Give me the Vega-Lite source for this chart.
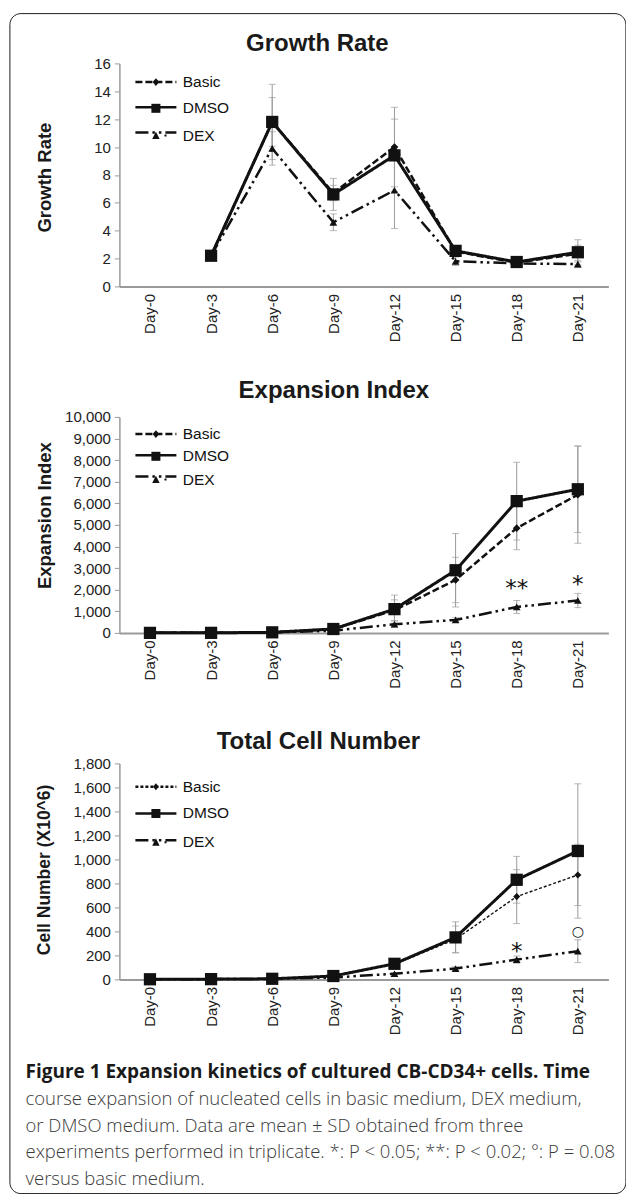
{
  "$schema": "https://vega.github.io/schema/vega-lite/v6.json",
  "padding": {"left": 8.4, "top": 12.4, "right": 0, "bottom": 0},
  "background": "white",
  "config": {
    "view": {"stroke": null},
    "axis": {"grid": false, "labelFont": "Liberation Sans", "labelColor": "#222", "titleFont": "Liberation Sans", "titleColor": "#1a1a1a", "titleFontWeight": "bold", "titleFontSize": 18.5, "domainColor": "#9a9a9a"},
    "axisY": {"domainWidth": 1.5, "tickColor": "#9a9a9a", "tickSize": 5, "tickWidth": 1, "labelPadding": 4, "labelFontSize": 15, "titleBaseline": "middle", "titleX": -75},
    "axisX": {"domainWidth": 2, "ticks": false, "tickSize": 0, "labelAngle": -90, "labelPadding": 7, "labelFontSize": 15, "title": null},
    "title": {"font": "Liberation Sans", "fontSize": 24, "fontWeight": "bold", "color": "#1a1a1a", "anchor": "middle", "baseline": "alphabetic", "frame": "group"},
    "legend": {"title": null, "orient": "none", "symbolSize": 420, "symbolOpacity": 1, "symbolFillColor": "#111", "symbolStrokeColor": "#111", "symbolStrokeWidth": 2.5, "labelOffset": 15.3, "labelFont": "Liberation Sans", "labelFontSize": 15.5, "labelColor": "#111", "legendX": 25}
  },
  "title": {
    "text": "Figure 1 Expansion kinetics of cultured CB-CD34+ cells. Time",
    "subtitle": [
      "course expansion of nucleated cells in basic medium, DEX medium,",
      "or DMSO medium. Data are mean ± SD obtained from three",
      "experiments performed in triplicate. *: P < 0.05; **: P < 0.02; °: P = 0.08",
      "versus basic medium."
    ],
    "orient": "bottom", "anchor": "start", "frame": "bounds", "offset": -130.2, "dx": 16.6, "baseline": "top",
    "font": "Open Sans", "fontSize": 19, "fontWeight": "bold", "color": "#1a1a1a",
    "subtitleFont": "Open Sans", "subtitleFontSize": 18.5, "subtitleFontWeight": 300, "subtitleColor": "#3a3a3a", "subtitleLineHeight": 26.67, "subtitlePadding": 7.67
  },
  "datasets": {
    "growth": [
      {"day": "Day-3", "d": 3, "series": "Basic", "value": 2.2, "sd": 0.1},
      {"day": "Day-3", "d": 3, "series": "DMSO", "value": 2.2, "sd": 0.15},
      {"day": "Day-3", "d": 3, "series": "DEX", "value": 2.2, "sd": 0.1},
      {"day": "Day-6", "d": 6, "series": "Basic", "value": 11.8, "sd": 1.75},
      {"day": "Day-6", "d": 6, "series": "DMSO", "value": 11.8, "sd": 2.7},
      {"day": "Day-6", "d": 6, "series": "DEX", "value": 9.9, "sd": 1.2},
      {"day": "Day-9", "d": 9, "series": "Basic", "value": 6.7, "sd": 0.55},
      {"day": "Day-9", "d": 9, "series": "DMSO", "value": 6.6, "sd": 1.15},
      {"day": "Day-9", "d": 9, "series": "DEX", "value": 4.6, "sd": 0.6},
      {"day": "Day-12", "d": 12, "series": "Basic", "value": 10.0, "sd": 2.85},
      {"day": "Day-12", "d": 12, "series": "DMSO", "value": 9.4, "sd": 2.6},
      {"day": "Day-12", "d": 12, "series": "DEX", "value": 6.9, "sd": 2.75},
      {"day": "Day-15", "d": 15, "series": "Basic", "value": 2.5, "sd": 0.3},
      {"day": "Day-15", "d": 15, "series": "DMSO", "value": 2.55, "sd": 0.3},
      {"day": "Day-15", "d": 15, "series": "DEX", "value": 1.8, "sd": 0.3},
      {"day": "Day-18", "d": 18, "series": "Basic", "value": 1.7, "sd": 0.2},
      {"day": "Day-18", "d": 18, "series": "DMSO", "value": 1.75, "sd": 0.2},
      {"day": "Day-18", "d": 18, "series": "DEX", "value": 1.65, "sd": 0.15},
      {"day": "Day-21", "d": 21, "series": "Basic", "value": 2.35, "sd": 0.6},
      {"day": "Day-21", "d": 21, "series": "DMSO", "value": 2.45, "sd": 0.9},
      {"day": "Day-21", "d": 21, "series": "DEX", "value": 1.6, "sd": 0.25}
    ],
    "expansion": [
      {"day": "Day-0", "d": 0, "series": "Basic", "value": 1, "sd": 0},
      {"day": "Day-0", "d": 0, "series": "DMSO", "value": 1, "sd": 0},
      {"day": "Day-0", "d": 0, "series": "DEX", "value": 1, "sd": 0},
      {"day": "Day-3", "d": 3, "series": "Basic", "value": 2.2, "sd": 0.2},
      {"day": "Day-3", "d": 3, "series": "DMSO", "value": 2.2, "sd": 0.2},
      {"day": "Day-3", "d": 3, "series": "DEX", "value": 2.2, "sd": 0.2},
      {"day": "Day-6", "d": 6, "series": "Basic", "value": 26, "sd": 5},
      {"day": "Day-6", "d": 6, "series": "DMSO", "value": 26, "sd": 5},
      {"day": "Day-6", "d": 6, "series": "DEX", "value": 22, "sd": 4},
      {"day": "Day-9", "d": 9, "series": "Basic", "value": 175, "sd": 40},
      {"day": "Day-9", "d": 9, "series": "DMSO", "value": 180, "sd": 50},
      {"day": "Day-9", "d": 9, "series": "DEX", "value": 100, "sd": 20},
      {"day": "Day-12", "d": 12, "series": "Basic", "value": 1050, "sd": 480},
      {"day": "Day-12", "d": 12, "series": "DMSO", "value": 1100, "sd": 650},
      {"day": "Day-12", "d": 12, "series": "DEX", "value": 400, "sd": 150},
      {"day": "Day-15", "d": 15, "series": "Basic", "value": 2450, "sd": 1050},
      {"day": "Day-15", "d": 15, "series": "DMSO", "value": 2900, "sd": 1700},
      {"day": "Day-15", "d": 15, "series": "DEX", "value": 600, "sd": 100},
      {"day": "Day-18", "d": 18, "series": "Basic", "value": 4850, "sd": 1000},
      {"day": "Day-18", "d": 18, "series": "DMSO", "value": 6100, "sd": 1800},
      {"day": "Day-18", "d": 18, "series": "DEX", "value": 1200, "sd": 300},
      {"day": "Day-21", "d": 21, "series": "Basic", "value": 6400, "sd": 2250},
      {"day": "Day-21", "d": 21, "series": "DMSO", "value": 6650, "sd": 2000},
      {"day": "Day-21", "d": 21, "series": "DEX", "value": 1500, "sd": 330}
    ],
    "cells": [
      {"day": "Day-0", "d": 0, "series": "Basic", "value": 1, "sd": 0},
      {"day": "Day-0", "d": 0, "series": "DMSO", "value": 1, "sd": 0},
      {"day": "Day-0", "d": 0, "series": "DEX", "value": 1, "sd": 0},
      {"day": "Day-3", "d": 3, "series": "Basic", "value": 2, "sd": 0.3},
      {"day": "Day-3", "d": 3, "series": "DMSO", "value": 2, "sd": 0.3},
      {"day": "Day-3", "d": 3, "series": "DEX", "value": 2, "sd": 0.3},
      {"day": "Day-6", "d": 6, "series": "Basic", "value": 5, "sd": 1},
      {"day": "Day-6", "d": 6, "series": "DMSO", "value": 5, "sd": 1},
      {"day": "Day-6", "d": 6, "series": "DEX", "value": 4, "sd": 1},
      {"day": "Day-9", "d": 9, "series": "Basic", "value": 27, "sd": 5},
      {"day": "Day-9", "d": 9, "series": "DMSO", "value": 28, "sd": 5},
      {"day": "Day-9", "d": 9, "series": "DEX", "value": 16, "sd": 4},
      {"day": "Day-12", "d": 12, "series": "Basic", "value": 125, "sd": 20},
      {"day": "Day-12", "d": 12, "series": "DMSO", "value": 130, "sd": 25},
      {"day": "Day-12", "d": 12, "series": "DEX", "value": 47, "sd": 10},
      {"day": "Day-15", "d": 15, "series": "Basic", "value": 335, "sd": 110},
      {"day": "Day-15", "d": 15, "series": "DMSO", "value": 350, "sd": 130},
      {"day": "Day-15", "d": 15, "series": "DEX", "value": 90, "sd": 15},
      {"day": "Day-18", "d": 18, "series": "Basic", "value": 690, "sd": 225},
      {"day": "Day-18", "d": 18, "series": "DMSO", "value": 830, "sd": 195},
      {"day": "Day-18", "d": 18, "series": "DEX", "value": 165, "sd": 30},
      {"day": "Day-21", "d": 21, "series": "Basic", "value": 870, "sd": 255},
      {"day": "Day-21", "d": 21, "series": "DMSO", "value": 1070, "sd": 560},
      {"day": "Day-21", "d": 21, "series": "DEX", "value": 235, "sd": 95}
    ],
    "notes2": [
      {"day": "Day-18", "value": 2010, "label": "**"},
      {"day": "Day-21", "value": 2210, "label": "*"}
    ],
    "notes3": [
      {"day": "Day-18", "value": 227, "label": "*"},
      {"day": "Day-21", "value": 395, "label": "○"}
    ]
  },
  "spacing": 130.5,
  "bounds": "flush",
  "resolve": {
    "scale": {"x": "independent", "y": "independent", "color": "independent", "shape": "independent", "strokeDash": "independent"},
    "legend": {"color": "independent", "shape": "independent", "strokeDash": "independent"}
  },
  "vconcat": [
    {
      "width": 489, "height": 223,
      "title": {"text": "Growth Rate", "offset": -42.9, "dx": -46.5},
      "data": {"name": "growth"},
      "encoding": {
        "x": {"field": "day", "type": "ordinal", "scale": {"type": "point", "padding": 0.5, "domain": ["Day-0", "Day-3", "Day-6", "Day-9", "Day-12", "Day-15", "Day-18", "Day-21"]}},
        "y": {"field": "value", "type": "quantitative", "scale": {"domain": [0, 16], "nice": false}, "axis": {"title": "Growth Rate", "values": [0, 2, 4, 6, 8, 10, 12, 14, 16], "titleY": 113.7}}
      },
      "resolve": {"scale": {"shape": "independent", "strokeDash": "independent"}, "legend": {"shape": "independent", "strokeDash": "independent"}},
      "layer": [
        {
          "mark": {"type": "point", "filled": true, "opacity": 0},
          "encoding": {
            "color": {"field": "sd", "type": "quantitative", "scale": {"range": ["transparent", "transparent"]},
              "legend": {"type": "gradient", "orient": "none", "legendX": -110, "legendY": -50.3, "direction": "vertical",
                "labelExpr": "''", "labelOffset": 0, "labelFontSize": 1,
                "gradientLength": 1180, "gradientThickness": 616, "gradientStrokeWidth": 0, "gradientOpacity": 0,
                "padding": 0, "strokeColor": "#1e1e1e", "cornerRadius": 11}}
          }
        },
        {"mark": {"type": "errorbar", "ticks": true, "size": 7, "thickness": 1, "color": "#9b9b9b"}, "encoding": {"yError": {"field": "sd"}}},
        {
          "mark": {"type": "line", "color": "#111", "strokeCap": "butt"},
          "encoding": {
            "strokeDash": {"field": "series", "type": "nominal", "scale": {"domain": ["Basic", "DMSO", "DEX"], "range": [[7, 3], [1, 0], [13, 4, 2.5, 4, 2.5, 4]]},
              "legend": {"legendY": 7.15, "rowPadding": 5.25, "labelOpacity": 0, "symbolType": "M-2,0H2"}},
            "strokeWidth": {"condition": {"test": "datum.series === 'DMSO'", "value": 3}, "value": 2.5},
            "order": {"field": "d", "type": "quantitative"}
          }
        },
        {"transform": [{"filter": "datum.series === 'DEX'"}], "mark": {"type": "point", "shape": "triangle-up", "size": 60, "filled": true, "opacity": 1, "color": "#111"}},
        {"transform": [{"filter": "datum.series === 'Basic'"}], "mark": {"type": "point", "shape": "diamond", "size": 60, "filled": true, "opacity": 1, "color": "#111"}},
        {"transform": [{"filter": "datum.series === 'DMSO'"}], "mark": {"type": "point", "shape": "square", "size": 150, "filled": true, "opacity": 1, "color": "#111"}},
        {
          "mark": {"type": "point", "filled": true, "color": "#111", "strokeWidth": 2.5, "opacity": 0},
          "encoding": {
            "shape": {"field": "series", "type": "nominal", "scale": {"domain": ["Basic", "DMSO", "DEX"], "range": ["M0,-0.38L0.32,0L0,0.38L-0.32,0Z", "M-0.44,-0.44H0.44V0.44H-0.44Z", "M-0.36,0.34L0,-0.38L0.36,0.34ZM0.84,-0.1H1.04V0.1H0.84Z"]},
              "legend": {"legendY": 7.15, "rowPadding": 5.25}}
          }
        }
      ]
    },
    {
      "width": 489, "height": 216,
      "title": {"text": "Expansion Index", "offset": 7.05, "dx": -30},
      "data": {"name": "expansion"},
      "encoding": {
        "x": {"field": "day", "type": "ordinal", "scale": {"type": "point", "padding": 0.5, "domain": ["Day-0", "Day-3", "Day-6", "Day-9", "Day-12", "Day-15", "Day-18", "Day-21"]}},
        "y": {"field": "value", "type": "quantitative", "scale": {"domain": [0, 10000], "nice": false}, "axis": {"title": "Expansion Index", "values": [0, 1000, 2000, 3000, 4000, 5000, 6000, 7000, 8000, 9000, 10000], "format": ",.0f", "titleY": 98.2}}
      },
      "resolve": {"scale": {"shape": "independent", "strokeDash": "independent"}, "legend": {"shape": "independent", "strokeDash": "independent"}},
      "layer": [
        {"mark": {"type": "errorbar", "ticks": true, "size": 7, "thickness": 1, "color": "#9b9b9b"}, "encoding": {"yError": {"field": "sd"}}},
        {
          "mark": {"type": "line", "color": "#111", "strokeCap": "butt"},
          "encoding": {
            "strokeDash": {"field": "series", "type": "nominal", "scale": {"domain": ["Basic", "DMSO", "DEX"], "range": [[7, 3], [1, 0], [13, 4, 2.5, 4, 2.5, 4]]},
              "legend": {"legendY": 5.65, "rowPadding": 1.25, "labelOpacity": 0, "symbolType": "M-2,0H2"}},
            "strokeWidth": {"condition": {"test": "datum.series === 'DMSO'", "value": 3}, "value": 2.5},
            "order": {"field": "d", "type": "quantitative"}
          }
        },
        {"transform": [{"filter": "datum.series === 'DEX'"}], "mark": {"type": "point", "shape": "triangle-up", "size": 60, "filled": true, "opacity": 1, "color": "#111"}},
        {"transform": [{"filter": "datum.series === 'Basic'"}], "mark": {"type": "point", "shape": "diamond", "size": 60, "filled": true, "opacity": 1, "color": "#111"}},
        {"transform": [{"filter": "datum.series === 'DMSO'"}], "mark": {"type": "point", "shape": "square", "size": 150, "filled": true, "opacity": 1, "color": "#111"}},
        {
          "mark": {"type": "point", "filled": true, "color": "#111", "strokeWidth": 2.5, "opacity": 0},
          "encoding": {
            "shape": {"field": "series", "type": "nominal", "scale": {"domain": ["Basic", "DMSO", "DEX"], "range": ["M0,-0.38L0.32,0L0,0.38L-0.32,0Z", "M-0.44,-0.44H0.44V0.44H-0.44Z", "M-0.36,0.34L0,-0.38L0.36,0.34ZM0.84,-0.1H1.04V0.1H0.84Z"]},
              "legend": {"legendY": 5.65, "rowPadding": 1.25}}
          }
        },
        {"data": {"name": "notes2"}, "mark": {"type": "text", "font": "DejaVu Sans", "fontSize": 23, "baseline": "middle", "color": "#111"}, "encoding": {"text": {"field": "label"}}}
      ]
    },
    {
      "width": 489, "height": 216,
      "title": {"text": "Total Cell Number", "offset": 2.05, "dx": -45.5},
      "data": {"name": "cells"},
      "encoding": {
        "x": {"field": "day", "type": "ordinal", "scale": {"type": "point", "padding": 0.5, "domain": ["Day-0", "Day-3", "Day-6", "Day-9", "Day-12", "Day-15", "Day-18", "Day-21"]}},
        "y": {"field": "value", "type": "quantitative", "scale": {"domain": [0, 1800], "nice": false}, "axis": {"title": "Cell Number (X10^6)", "values": [0, 200, 400, 600, 800, 1000, 1200, 1400, 1600, 1800], "format": ",.0f", "titleY": 106, "titleFontSize": 17.5}}
      },
      "resolve": {"scale": {"shape": "independent", "strokeDash": "independent"}, "legend": {"shape": "independent", "strokeDash": "independent"}},
      "layer": [
        {"mark": {"type": "errorbar", "ticks": true, "size": 7, "thickness": 1, "color": "#9b9b9b"}, "encoding": {"yError": {"field": "sd"}}},
        {
          "mark": {"type": "line", "color": "#111", "strokeCap": "butt"},
          "encoding": {
            "strokeDash": {"field": "series", "type": "nominal", "scale": {"domain": ["Basic", "DMSO", "DEX"], "range": [[3, 2], [1, 0], [13, 4, 2.5, 4, 2.5, 4]]},
              "legend": {"legendY": 11.85, "rowPadding": 6.75, "labelOpacity": 0, "symbolType": "M-2,0H2"}},
            "strokeWidth": {"condition": [{"test": "datum.series === 'DMSO'", "value": 3}, {"test": "datum.series === 'Basic'", "value": 1.4}], "value": 2.5},
            "order": {"field": "d", "type": "quantitative"}
          }
        },
        {"transform": [{"filter": "datum.series === 'DEX'"}], "mark": {"type": "point", "shape": "triangle-up", "size": 60, "filled": true, "opacity": 1, "color": "#111"}},
        {"transform": [{"filter": "datum.series === 'Basic'"}], "mark": {"type": "point", "shape": "diamond", "size": 50, "filled": true, "opacity": 1, "color": "#111"}},
        {"transform": [{"filter": "datum.series === 'DMSO'"}], "mark": {"type": "point", "shape": "square", "size": 150, "filled": true, "opacity": 1, "color": "#111"}},
        {
          "mark": {"type": "point", "filled": true, "color": "#111", "strokeWidth": 2.5, "opacity": 0},
          "encoding": {
            "shape": {"field": "series", "type": "nominal", "scale": {"domain": ["Basic", "DMSO", "DEX"], "range": ["M0,-0.34L0.28,0L0,0.34L-0.28,0Z", "M-0.44,-0.44H0.44V0.44H-0.44Z", "M-0.36,0.34L0,-0.38L0.36,0.34ZM0.84,-0.1H1.04V0.1H0.84Z"]},
              "legend": {"legendY": 11.85, "rowPadding": 6.75}}
          }
        },
        {"data": {"name": "notes3"}, "transform": [{"filter": "datum.label === '*'"}], "mark": {"type": "text", "font": "DejaVu Sans", "fontSize": 23, "baseline": "middle", "color": "#111"}, "encoding": {"text": {"field": "label"}}},
        {"data": {"name": "notes3"}, "transform": [{"filter": "datum.label !== '*'"}], "mark": {"type": "text", "font": "DejaVu Sans", "fontSize": 14, "baseline": "middle", "color": "#111"}, "encoding": {"text": {"field": "label"}}}
      ]
    }
  ]
}
